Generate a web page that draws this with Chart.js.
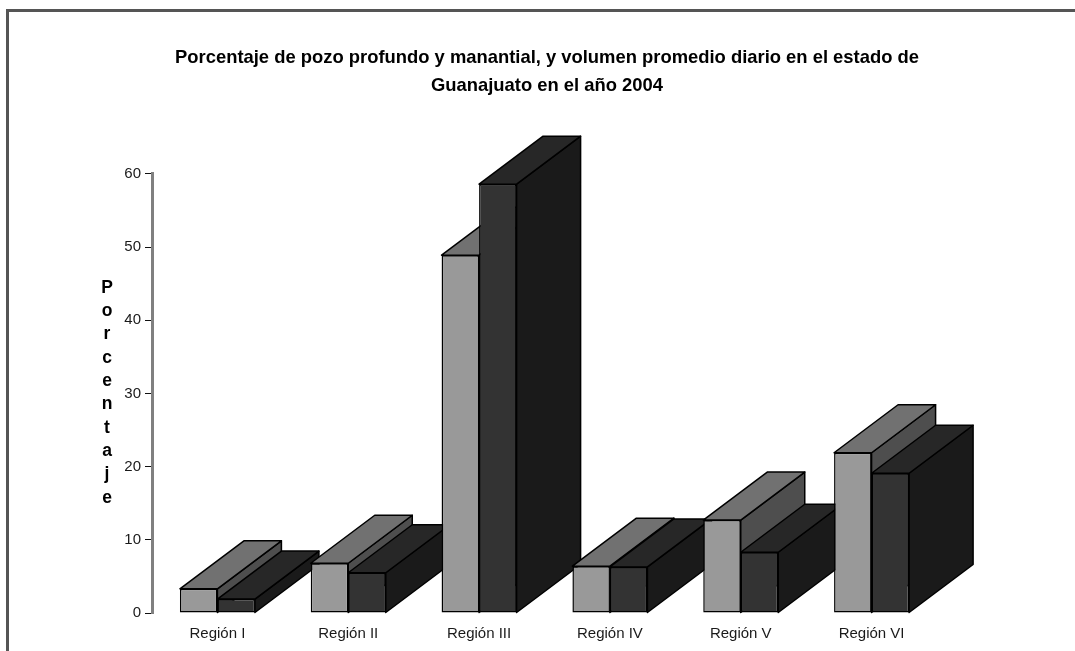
<!DOCTYPE html>
<html lang="es">
<head>
<meta charset="utf-8">
<title>Porcentaje de pozo profundo y manantial</title>
<script src="https://cdn.jsdelivr.net/npm/chart.js@4"></script>
<style>
    html, body { margin: 0; padding: 0; background: #fff; overflow: hidden; }
    #wrap { position: relative; width: 1075px; height: 651px; overflow: hidden; }
    #frame {
        position: absolute; left: 6px; top: 9px; width: 1080px; height: 660px;
        border-left: 3px solid #555; border-top: 3px solid #555;
    }
    canvas { position: absolute; left: 0; top: 0; }
</style>
</head>
<body>
<div id="wrap">
    <div id="frame"></div>
    <canvas id="myChart" width="1075" height="651"></canvas>
</div>
<script>
const categories = ['Región I', 'Región II', 'Región III', 'Región IV', 'Región V', 'Región VI'];
const pozoProfundo = [3.3, 6.8, 48.9, 6.4, 12.7, 21.9];
const manantial = [1.9, 5.5, 58.6, 6.3, 8.3, 19.1];
const yTicks = [0, 10, 20, 30, 40, 50, 60];
const chartTitle = [
    'Porcentaje de pozo profundo y manantial, y volumen promedio diario en el estado de',
    'Guanajuato en el año 2004'
];
const yTitle = 'Porcentaje';

const DEPTH_X = 64;
const DEPTH_Y = 48;
const EDGE = 1.5;
const FONT = '"Liberation Sans", Arial, sans-serif';

// front colour comes from the dataset, top and side faces are shaded here
const faceColors = [
    { top: '#717171', side: '#4e4e4e' },
    { top: '#272727', side: '#1a1a1a' }
];

function face(ctx, points, fill) {
    ctx.beginPath();
    points.forEach(function (p, i) {
        if (i === 0) ctx.moveTo(p[0], p[1]);
        else ctx.lineTo(p[0], p[1]);
    });
    ctx.closePath();
    ctx.fillStyle = fill;
    ctx.fill();
    ctx.stroke();
}

// Chart.js has no 3D bars: the extruded faces are added around each bar element,
// and regions are painted left to right so nearer boxes cover the ones behind
const boxes3d = {
    id: 'boxes3d',
    beforeDatasetsDraw: function (chart) {
        const ctx = chart.ctx;
        categories.forEach(function (_, i) {
            chart.data.datasets.forEach(function (dataset, d) {
                const bar = chart.getDatasetMeta(d).data[i];
                const left = bar.x - bar.width / 2;
                const right = bar.x + bar.width / 2;
                const top = bar.y;
                const bottom = bar.base;
                ctx.save();
                ctx.strokeStyle = '#000';
                ctx.lineWidth = EDGE;
                ctx.lineJoin = 'round';
                face(ctx, [[right, top], [right + DEPTH_X, top - DEPTH_Y],
                    [right + DEPTH_X, bottom - DEPTH_Y], [right, bottom]], faceColors[d].side);
                face(ctx, [[left, top], [left + DEPTH_X, top - DEPTH_Y],
                    [right + DEPTH_X, top - DEPTH_Y], [right, top]], faceColors[d].top);
                ctx.restore();
                bar.draw(ctx);
            });
        });
        return false;
    },
    afterDraw: function (chart) {
        // vertical axis title, one letter per line
        const ctx = chart.ctx;
        ctx.save();
        ctx.font = 'bold 17.5px ' + FONT;
        ctx.fillStyle = '#000';
        ctx.textAlign = 'center';
        ctx.textBaseline = 'middle';
        yTitle.split('').forEach(function (letter, i) {
            ctx.fillText(letter, 107, 288 + i * 23.3);
        });
        ctx.restore();
    }
};

document.addEventListener('DOMContentLoaded', function () {
    const ctx = document.getElementById('myChart').getContext('2d');

    new Chart(ctx, {
        type: 'bar',
        data: {
            labels: categories,
            datasets: [
                {
                    label: 'Pozo profundo',
                    data: pozoProfundo,
                    backgroundColor: '#999999',
                    borderColor: '#000',
                    borderWidth: EDGE,
                    borderSkipped: false
                },
                {
                    label: 'Manantial',
                    data: manantial,
                    backgroundColor: '#333333',
                    borderColor: '#000',
                    borderWidth: EDGE,
                    borderSkipped: false
                }
            ]
        },
        plugins: [boxes3d],
        options: {
            responsive: false,
            animation: false,
            categoryPercentage: 0.5734,
            barPercentage: 1,
            layout: { padding: { left: 19 } },
            plugins: {
                legend: { display: false },
                tooltip: { enabled: false },
                title: {
                    display: true,
                    text: chartTitle,
                    color: '#000',
                    font: { family: FONT, size: 18.4, weight: 'bold', lineHeight: 1.52 },
                    padding: { top: 44, bottom: 74 }
                }
            },
            scales: {
                x: {
                    grid: { display: false },
                    border: { display: false },
                    ticks: {
                        color: '#1a1a1a',
                        font: { family: FONT, size: 15 },
                        padding: 4,
                        autoSkip: false,
                        maxRotation: 0
                    },
                    afterFit: function (scale) { scale.height = 38; }
                },
                y: {
                    min: 0,
                    max: 60,
                    afterBuildTicks: function (scale) {
                        scale.ticks = yTicks.map(function (v) { return { value: v }; });
                    },
                    grid: { drawOnChartArea: false, color: '#111', tickLength: 7 },
                    border: { color: '#808080', width: 3 },
                    ticks: {
                        color: '#1a1a1a',
                        font: { family: FONT, size: 15 },
                        padding: 4
                    },
                    afterFit: function (scale) { scale.width = 133; }
                },
                // empty axis that only reserves the white band on the right
                spacer: {
                    position: 'right',
                    grid: { display: false },
                    border: { display: false },
                    ticks: { display: false },
                    afterFit: function (scale) { scale.width = 138; }
                }
            }
        }
    });
});
</script>
</body>
</html>
